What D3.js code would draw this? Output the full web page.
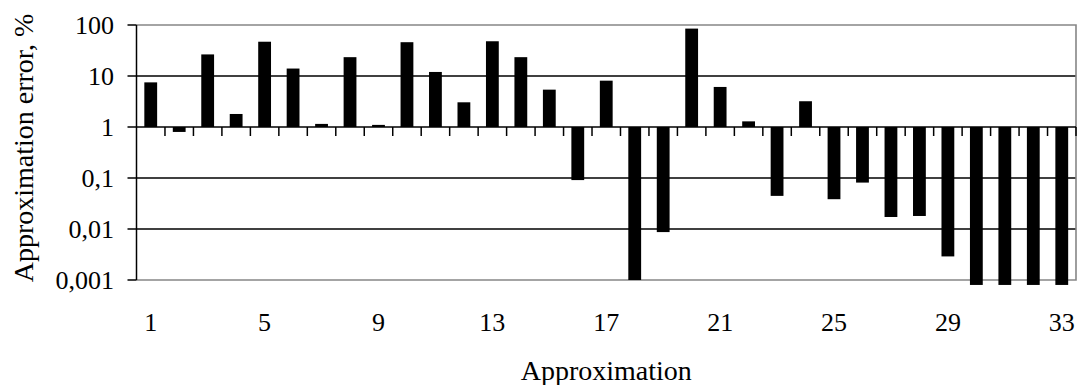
<!DOCTYPE html>
<html>
<head>
<meta charset="utf-8">
<script src="https://cdn.jsdelivr.net/npm/d3@7"></script>
<style>
  body { margin: 0; background: #fff; }
  svg text { font-family: "Liberation Serif", "Times New Roman", serif; fill: #000; }
</style>
</head>
<body>
<div id="chart"></div>
<script>

// approximation numbers 1..33
var approximations = d3.range(1, 34);

// approximation error, %
var errors = [7.5, 0.8, 26.5, 1.8, 47, 14, 1.15, 23.4, 1.1, 46,
              12, 3.05, 48, 23.4, 5.4, 0.091, 8.1, 0.001, 0.0087, 85,
              6.1, 1.29, 0.0446, 3.2, 0.0384, 0.0813, 0.0172, 0.018, 0.0029, 0.0008,
              0.0008, 0.0008, 0.0008];

var yTicks = [0.001, 0.01, 0.1, 1, 10, 100];
var yTickLabels = ["0,001", "0,01", "0,1", "1", "10", "100"];
var xTickLabels = [1, 5, 9, 13, 17, 21, 25, 29, 33];

var width = 1083, height = 385;
var margin = {top: 25, right: 7, bottom: 105, left: 136.5};
var serif = "'Liberation Serif', 'Times New Roman', serif";

var svg = d3.select("#chart").append("svg")
    .attr("width", width)
    .attr("height", height)
    .attr("font-family", serif);

var x = d3.scaleBand()
    .domain(approximations)
    .range([margin.left, width - margin.right])
    .padding(0);

var y = d3.scaleLog()
    .domain([0.001, 100])
    .range([height - margin.bottom, margin.top]);

var barW = x.bandwidth() * 0.45;
var base = y(1);

// horizontal grid lines
svg.selectAll(".grid")
    .data([0.01, 0.1, 10])
    .enter().append("line")
    .attr("x1", margin.left).attr("x2", width - margin.right)
    .attr("y1", function(d){ return y(d); }).attr("y2", function(d){ return y(d); })
    .attr("stroke", "#000").attr("stroke-width", 1.5);

// gray plot frame (top, right, bottom)
svg.append("path")
    .attr("d", "M" + margin.left + "," + y(100) + "H" + (width - margin.right) +
               "V" + y(0.001) + "H" + margin.left)
    .attr("fill", "none").attr("stroke", "#868686").attr("stroke-width", 1.6);

// bars from the 1 % baseline
svg.selectAll(".bar")
    .data(errors)
    .enter().append("rect")
    .attr("x", function(d, i){ return x(approximations[i]) + (x.bandwidth() - barW) / 2; })
    .attr("y", function(d){ return Math.min(y(d), base); })
    .attr("width", barW)
    .attr("height", function(d){ return Math.abs(y(d) - base); })
    .attr("fill", "#000");

// y axis
svg.append("line")
    .attr("x1", margin.left).attr("x2", margin.left)
    .attr("y1", y(100)).attr("y2", y(0.001))
    .attr("stroke", "#000").attr("stroke-width", 1.5);

svg.selectAll(".ytick")
    .data(yTicks)
    .enter().append("line")
    .attr("x1", margin.left - 9).attr("x2", margin.left)
    .attr("y1", function(d){ return y(d); }).attr("y2", function(d){ return y(d); })
    .attr("stroke", "#000").attr("stroke-width", 1.5);

svg.selectAll(".ylabel")
    .data(yTicks)
    .enter().append("text")
    .attr("x", 114)
    .attr("y", function(d){ return y(d); })
    .attr("dy", "0.34em")
    .attr("text-anchor", "end")
    .attr("font-family", serif)
    .style("font-size", "26px")
    .text(function(d, i){ return yTickLabels[i]; });

// x axis along the 1 % line
svg.append("line")
    .attr("x1", margin.left).attr("x2", width - margin.right)
    .attr("y1", base).attr("y2", base)
    .attr("stroke", "#000").attr("stroke-width", 1.5);

svg.selectAll(".xtick")
    .data(approximations)
    .enter().append("line")
    .attr("x1", function(d){ return x(d) + x.bandwidth(); })
    .attr("x2", function(d){ return x(d) + x.bandwidth(); })
    .attr("y1", base).attr("y2", base + 9)
    .attr("stroke", "#000").attr("stroke-width", 1.5);

svg.selectAll(".xlabel")
    .data(xTickLabels)
    .enter().append("text")
    .attr("x", function(d){ return x(d) + x.bandwidth() / 2; })
    .attr("y", 331)
    .attr("text-anchor", "middle")
    .attr("font-family", serif)
    .style("font-size", "26px")
    .text(function(d){ return d; });

// axis titles
svg.append("text")
    .attr("x", (margin.left + width - margin.right) / 2)
    .attr("y", 380)
    .attr("text-anchor", "middle")
    .attr("font-family", serif)
    .style("font-size", "28px")
    .text("Approximation");

svg.append("text")
    .attr("transform", "translate(33,148) rotate(-90)")
    .attr("text-anchor", "middle")
    .attr("font-family", serif)
    .style("font-size", "28px")
    .text("Approximation error, %");

</script>
</body>
</html>
